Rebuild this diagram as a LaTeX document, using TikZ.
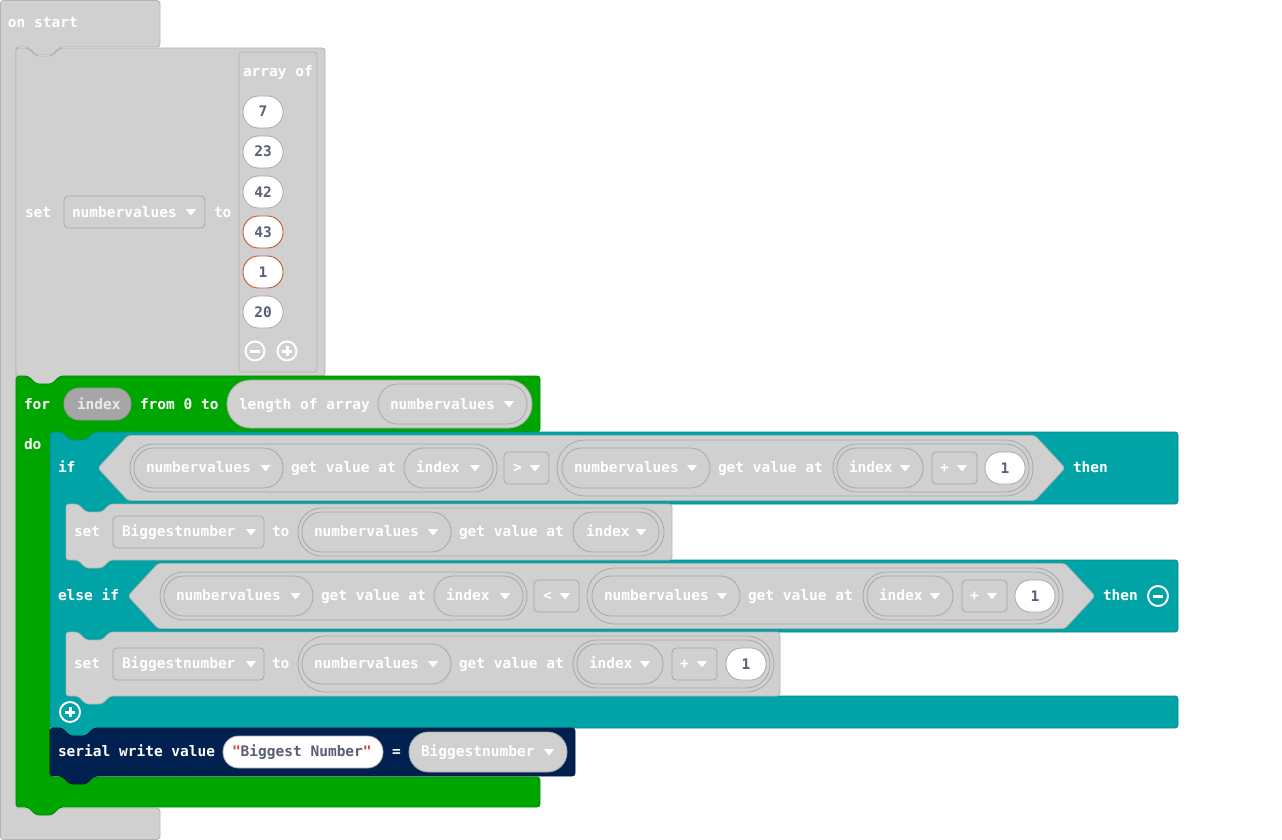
\documentclass[tikz,border=0pt]{standalone}
\usepackage{fontspec}
\newfontfamily\blockfont{DejaVu Sans Mono}

\definecolor{bgray}{RGB}{208,208,208}
\definecolor{bgrayd}{RGB}{178,178,178}
\definecolor{pilld}{RGB}{168,168,168}
\definecolor{sgray}{RGB}{166,166,166}
\definecolor{sgrayd}{RGB}{150,150,150}
\definecolor{loopgreen}{RGB}{0,166,0}
\definecolor{loopgreend}{RGB}{0,138,0}
\definecolor{logicteal}{RGB}{0,164,166}
\definecolor{logicteald}{RGB}{0,140,142}
\definecolor{serialnavy}{RGB}{0,32,80}
\definecolor{serialnavyd}{RGB}{0,20,56}
\definecolor{slate}{RGB}{87,94,117}
\definecolor{warnorange}{RGB}{198,90,50}
\definecolor{qred}{RGB}{210,60,60}

% statement block with a notch on top and a tab below: style, left, top, right, bottom
\newcommand\stmtblock[5]{%
  \draw[#1] (#2,#3) -- ({#2+12},#3) -- ({#2+20},{#3+8}) -- ({#2+36},{#3+8}) -- ({#2+44},#3)
    -- (#4,#3) -- (#4,#5) -- ({#2+44},#5) -- ({#2+36},{#5+8}) -- ({#2+20},{#5+8}) -- ({#2+12},#5)
    -- (#2,#5) -- cycle;}
% rounded field: style, x1, y1, x2, y2, corner radius
\newcommand\pill[6]{\draw[#1,rounded corners=#6] ({#2},{#3}) rectangle ({#4},{#5});}
% dropdown arrow centred at x, y
\newcommand\tri[2]{\fill[white,rounded corners=0.6] ({#1-5.2},{#2-3}) -- ({#1+5.2},{#2-3}) -- ({#1},{#2+3.4}) -- cycle;}
% text label: [style] name, x, centre y, text
\newcommand\lbl[5][lbl]{\node[#1] (#2) at ({#3},{#4+4.5}) {#5};}
% mutator buttons
\newcommand\minusbtn[3]{\draw[white,line width=1.9pt] (#1,#2) circle (#3);
  \draw[white,line width=3pt] ({#1-0.5*#3},#2) -- ({#1+0.5*#3},#2);}
\newcommand\plusbtn[3]{\draw[white,line width=1.9pt] (#1,#2) circle (#3);
  \draw[white,line width=3pt] ({#1-0.5*#3},#2) -- ({#1+0.5*#3},#2);
  \draw[white,line width=3pt] (#1,{#2-0.5*#3}) -- (#1,{#2+0.5*#3});}

% comparison row: x offset, centre y, operator, name prefix
\newcommand\cmprow[4]{%
  \draw[grayblk] ({98+#1},#2) -- ({128+#1},{#2-32.5}) -- ({1035+#1},{#2-32.5}) -- ({1065+#1},#2)
    -- ({1035+#1},{#2+32.5}) -- ({128+#1},{#2+32.5}) -- cycle;
  \pill{pillg}{130+#1}{#2-24}{497+#1}{#2+24}{23.5}
  \pill{pillg}{134+#1}{#2-20}{283+#1}{#2+20}{19.5}
  \lbl{#4nvA}{146+#1}{#2}{numbervalues}\tri{265.5+#1}{#2}
  \lbl{#4gvA}{291+#1}{#2}{get value at}
  \pill{pillg}{404+#1}{#2-20}{493+#1}{#2+20}{19.5}
  \lbl{#4ixA}{416+#1}{#2}{index}\tri{475+#1}{#2}
  \pill{pillg}{504+#1}{#2-16}{549+#1}{#2+16}{4}
  \lbl{#4op}{513+#1}{#2}{#3}\tri{535+#1}{#2}
  \pill{pillg}{557+#1}{#2-28}{1033+#1}{#2+28}{27.5}
  \pill{pillg}{562+#1}{#2-20}{710+#1}{#2+20}{19.5}
  \lbl{#4nvB}{574+#1}{#2}{numbervalues}\tri{692+#1}{#2}
  \lbl{#4gvB}{718+#1}{#2}{get value at}
  \pill{pillg}{833+#1}{#2-24}{1029+#1}{#2+24}{23.5}
  \pill{pillg}{837+#1}{#2-20}{923+#1}{#2+20}{19.5}
  \lbl{#4ixB}{849+#1}{#2}{index}\tri{905+#1}{#2}
  \pill{pillg}{932+#1}{#2-16}{977+#1}{#2+16}{4}
  \lbl{#4pl}{940+#1}{#2}{+}\tri{962+#1}{#2}
  \pill{pillw}{985+#1}{#2-16}{1025+#1}{#2+16}{15.5}
  \node[nlbl] (#4one) at ({1005+#1},{#2+5}) {1};}

% "set Biggestnumber to" prefix: name prefix, centre y
\newcommand\setprefix[2]{%
  \lbl{#1set}{74}{#2}{set}
  \pill{pillg}{113}{#2-16}{264}{#2+16}{4}
  \lbl{#1var}{122}{#2}{Biggestnumber}\tri{251}{#2}
  \lbl{#1to}{272}{#2}{to}}

\begin{document}
\begin{tikzpicture}[x=1pt,y=-1pt,
  blkfont/.style={font=\blockfont\bfseries\fontsize{14.5}{16}\selectfont},
  lbl/.style={blkfont,anchor=base west,inner sep=0pt,outer sep=0pt,text=white},
  dlbl/.style={lbl,text=slate},
  nlbl/.style={blkfont,anchor=base,inner sep=0pt,outer sep=0pt,text=slate},
  blk/.style={line width=0.8pt,rounded corners=3},
  grayblk/.style={blk,fill=bgray,draw=bgrayd},
  greenblk/.style={blk,fill=loopgreen,draw=loopgreend},
  tealblk/.style={blk,fill=logicteal,draw=logicteald},
  navyblk/.style={blk,fill=serialnavy,draw=serialnavyd},
  pillg/.style={fill=bgray,draw=pilld,line width=0.8pt},
  pillw/.style={fill=white,draw=pilld,line width=0.8pt},
  pillwarn/.style={fill=white,draw=warnorange,line width=0.9pt},
  pillshadow/.style={fill=sgray,draw=sgrayd,line width=0.8pt}]
\useasboundingbox (0,0) rectangle (1282,840);

% on start
\draw[grayblk] (0.5,839.5) -- (0.5,0.5) -- (160,0.5) -- (160,47) -- (60,47) -- (52,55) -- (36,55)
  -- (28,47) -- (16,47) -- (16,808) -- (160,808) -- (160,839.5) -- cycle;
\lbl{onstart}{8}{23.5}{on start}

% set numbervalues to array of ...
\stmtblock{grayblk}{16}{48}{325}{376}
\lbl{set0}{25}{212.5}{set}
\pill{pillg}{64}{196}{205}{228}{4}
\lbl{nv0}{72}{212.5}{numbervalues}\tri{191}{212}
\lbl{to0}{214}{212.5}{to}
\draw[grayblk] (239,52) rectangle (317,372);
\lbl{arrof}{243}{72.5}{array of}
\pill{pillw}{243}{96}{283}{128}{15.5}\node[nlbl] (v7) at (263,117) {7};
\pill{pillw}{243}{136}{283}{168}{15.5}\node[nlbl] (v23) at (263,157) {23};
\pill{pillw}{243}{176}{283}{208}{15.5}\node[nlbl] (v42) at (263,197) {42};
\pill{pillwarn}{243}{216}{283}{248}{15.5}\node[nlbl] (v43) at (263,237) {43};
\pill{pillwarn}{243}{256}{283}{288}{15.5}\node[nlbl] (v1) at (263,277) {1};
\pill{pillw}{243}{296}{283}{328}{15.5}\node[nlbl] (v20) at (263,317) {20};
\minusbtn{255}{351}{9.5}
\plusbtn{287}{351}{9.5}

% for index from 0 to length of array
\draw[greenblk] (16,376) -- (28,376) -- (36,384) -- (52,384) -- (60,376) -- (540,376) -- (540,432)
  -- (94,432) -- (86,440) -- (70,440) -- (62,432) -- (50,432) -- (50,777) -- (540,777) -- (540,807)
  -- (60,807) -- (52,815) -- (36,815) -- (28,807) -- (16,807) -- cycle;
\lbl{for}{24}{404.5}{for}
\pill{pillshadow}{64}{388}{131}{420}{15.5}
\lbl[lbl,text=white!92!black]{forix}{77}{404.5}{index}
\lbl{from}{140}{404.5}{from 0 to}
\pill{pillg}{227}{380}{532}{428}{23.5}
\lbl{len}{239}{404.5}{length of array}
\pill{pillg}{378}{384}{527}{424}{19.5}
\lbl{lennv}{390}{404.5}{numbervalues}\tri{509}{404}
\lbl{do}{24}{445}{do}

% if / else if
\draw[tealblk] (50,432) -- (62,432) -- (70,440) -- (86,440) -- (94,432) -- (1178,432) -- (1178,504)
  -- (110,504) -- (102,512) -- (86,512) -- (78,504) -- (66,504) -- (66,560) -- (1178,560)
  -- (1178,632) -- (110,632) -- (102,640) -- (86,640) -- (78,632) -- (66,632) -- (66,696)
  -- (1178,696) -- (1178,728) -- (94,728) -- (86,736) -- (70,736) -- (62,728) -- (50,728) -- cycle;
\lbl{if}{58}{468}{if}
\cmprow{0}{468}{>}{ra}
\lbl{then1}{1073}{468}{then}
\lbl{elseif}{58}{596}{else if}
\cmprow{30}{596}{<}{rb}
\lbl{then2}{1103}{596}{then}
\minusbtn{1158}{596}{10}
\plusbtn{70}{712}{10}

% set Biggestnumber to numbervalues get value at index
\stmtblock{grayblk}{66}{504}{672}{560}
\setprefix{sa}{532}
\pill{pillg}{298}{508}{664}{556}{23.5}
\pill{pillg}{302}{512}{451}{552}{19.5}
\lbl{sanv}{314}{532}{numbervalues}\tri{433}{532}
\lbl{sagv}{459}{532}{get value at}
\pill{pillg}{573}{512}{659}{552}{19.5}
\lbl{saix}{586}{532}{index}\tri{641}{532}

% set Biggestnumber to numbervalues get value at index + 1
\stmtblock{grayblk}{66}{632}{780}{696}
\setprefix{sb}{664}
\pill{pillg}{298}{636}{774}{692}{27.5}
\pill{pillg}{302}{644}{451}{684}{19.5}
\lbl{sbnv}{314}{664}{numbervalues}\tri{433}{664}
\lbl{sbgv}{459}{664}{get value at}
\pill{pillg}{573}{640}{770}{688}{23.5}
\pill{pillg}{577}{644}{663}{684}{19.5}
\lbl{sbix}{589}{664}{index}\tri{645}{664}
\pill{pillg}{672}{648}{717}{680}{4}
\lbl{sbpl}{680}{664}{+}\tri{702}{664}
\pill{pillw}{726}{648}{766}{680}{15.5}
\node[nlbl] (sbone) at (746,669) {1};

% serial write value
\stmtblock{navyblk}{50}{728}{575}{776}
\lbl{serial}{58}{752}{serial write value}
\pill{pillw}{223}{736}{383}{768}{15.5}
\lbl[dlbl]{str}{232}{752}{{\color{qred}"}Biggest Number{\color{qred}"}}
\lbl{eq}{392}{752}{=}
\pill{pillg}{409}{732}{567}{772}{19.5}
\lbl{serv}{421}{752}{Biggestnumber}\tri{549}{752}
\end{tikzpicture}
\end{document}
